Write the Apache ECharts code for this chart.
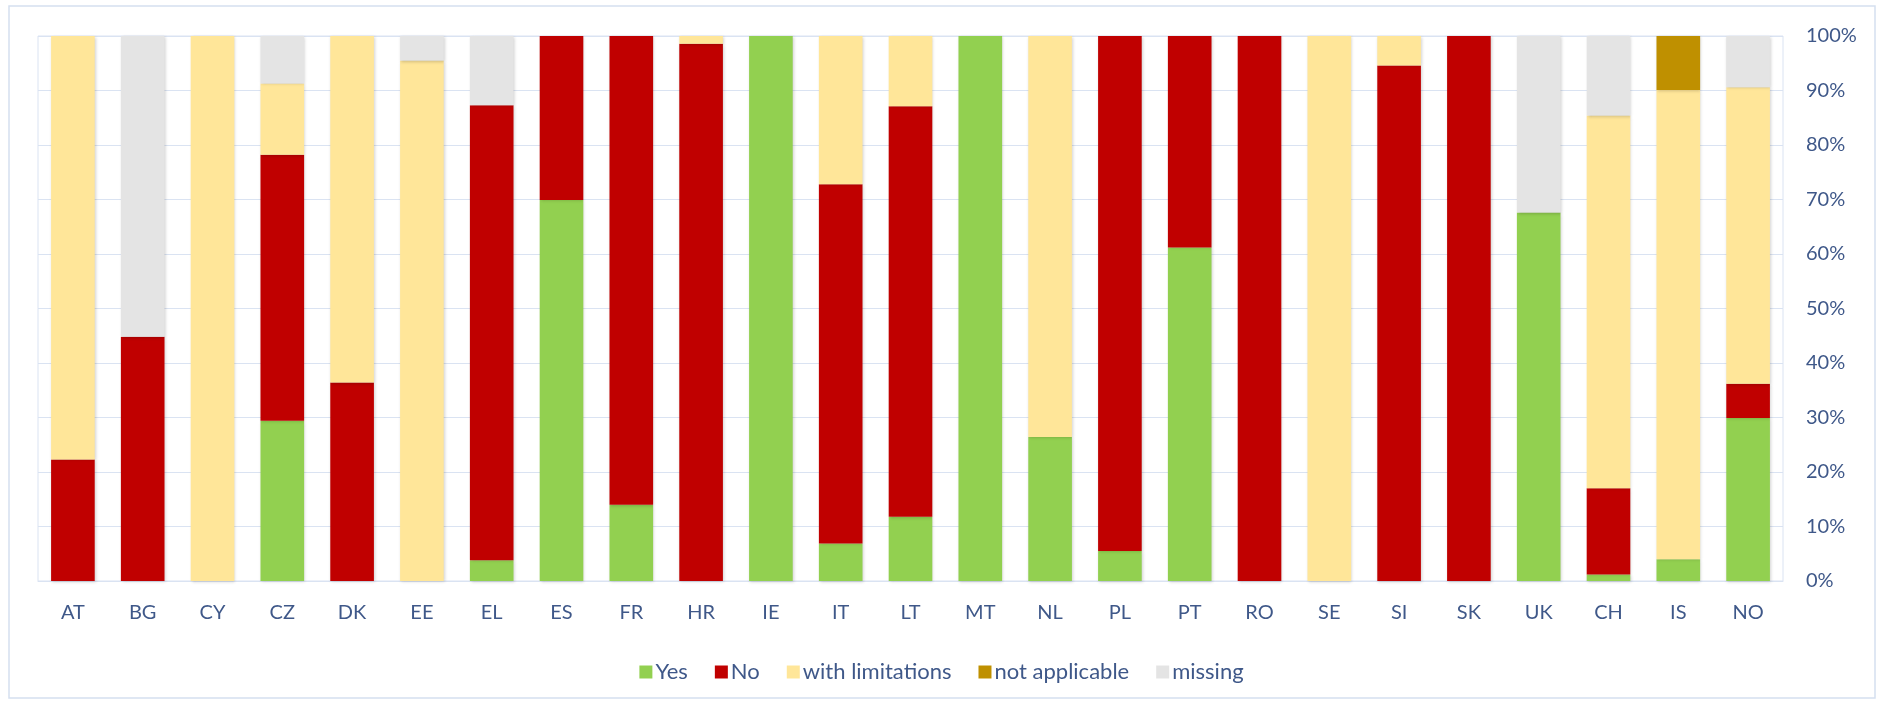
<!DOCTYPE html>
<html>
<head>
<meta charset="utf-8">
<script src="https://cdn.jsdelivr.net/npm/echarts@6/dist/echarts.min.js"></script>
<style>
html,body{margin:0;padding:0;background:#fff;}
#chart{width:1883px;height:704px;}
</style>
</head>
<body>
<div id="chart"></div>
<script>
var categories = ['AT','BG','CY','CZ','DK','EE','EL','ES','FR','HR','IE','IT','LT','MT','NL','PL','PT','RO','SE','SI','SK','UK','CH','IS','NO'];
var yesValues       = [0, 0, 0, 29.4, 0, 0, 3.8, 69.9, 14.0, 0, 100, 6.9, 11.8, 100, 26.4, 5.5, 61.2, 0, 0, 0, 0, 67.6, 1.2, 4.0, 29.9];
var noValues        = [22.3, 44.8, 0, 48.8, 36.4, 0, 83.5, 30.1, 86.0, 98.6, 0, 65.9, 75.3, 0, 0, 94.5, 38.8, 100, 0, 94.6, 100, 0, 15.8, 0, 6.3];
var limitValues     = [77.7, 0, 100, 13.1, 63.6, 95.5, 0, 0, 0, 1.4, 0, 27.2, 12.9, 0, 73.6, 0, 0, 0, 100, 5.4, 0, 0, 68.4, 86.1, 54.4];
var naValues        = [0, 0, 0, 0, 0, 0, 0, 0, 0, 0, 0, 0, 0, 0, 0, 0, 0, 0, 0, 0, 0, 0, 0, 9.9, 0];
var missingValues   = [0, 55.2, 0, 8.7, 0, 4.5, 12.7, 0, 0, 0, 0, 0, 0, 0, 0, 0, 0, 0, 0, 0, 0, 32.4, 14.6, 0, 9.4];
var seriesNames = ['Yes','No','with limitations','not applicable','missing'];
var seriesColors = ['#92D050','#C00000','#FFE699','#BF9000','#E4E4E4'];
var yTicks = [0,10,20,30,40,50,60,70,80,90,100];

var textColor = '#3F5889';
var font = 'Lato, "Open Sans", sans-serif';
var allValues = [yesValues, noValues, limitValues, naValues, missingValues];

var chart = echarts.init(document.getElementById('chart'), null, {renderer:'canvas'});
var series = seriesNames.map(function(name, i){
  return {
    name: name,
    type: 'bar',
    stack: 'total',
    barWidth: '62.5%',
    data: allValues[i],
    itemStyle: {
      color: seriesColors[i],
      shadowColor: 'rgba(0,0,0,0.18)',
      shadowBlur: 3,
      shadowOffsetX: 1,
      shadowOffsetY: 1
    },
    emphasis: {disabled: true}
  };
});

chart.setOption({
  animation: false,
  backgroundColor: '#ffffff',
  graphic: [{
    type: 'rect',
    shape: {x: 9, y: 6, width: 1866, height: 692},
    style: {fill: 'none', stroke: '#D5E0F0', lineWidth: 1.5},
    silent: true
  }],
  grid: {left: 38, right: 100, top: 36, bottom: 123, show: true, borderColor: '#DAE3F2', borderWidth: 1, backgroundColor: 'transparent'},
  legend: {
    data: seriesNames,
    left: 'center',
    top: 656,
    itemWidth: 13,
    itemHeight: 13,
    itemGap: 27,
    icon: 'rect',
    textStyle: {color: textColor, fontSize: 22, fontFamily: font, padding: [0,0,0,-2]}
  },
  xAxis: {
    type: 'category',
    data: categories,
    axisLine: {show: true, lineStyle: {color: '#DAE3F2'}},
    axisTick: {show: false},
    axisLabel: {color: textColor, fontSize: 20, fontFamily: font, margin: 22}
  },
  yAxis: {
    type: 'value',
    position: 'right',
    min: 0,
    max: 100,
    interval: 10,
    axisLine: {show: false},
    axisTick: {show: false},
    splitLine: {show: true, lineStyle: {color: '#DAE3F2', width: 1}},
    axisLabel: {
      color: textColor, fontSize: 20, fontFamily: font, margin: 23,
      formatter: function(v){ return yTicks.indexOf(v) >= 0 ? v + '%' : ''; }
    }
  },
  series: series
});
</script>
</body>
</html>
